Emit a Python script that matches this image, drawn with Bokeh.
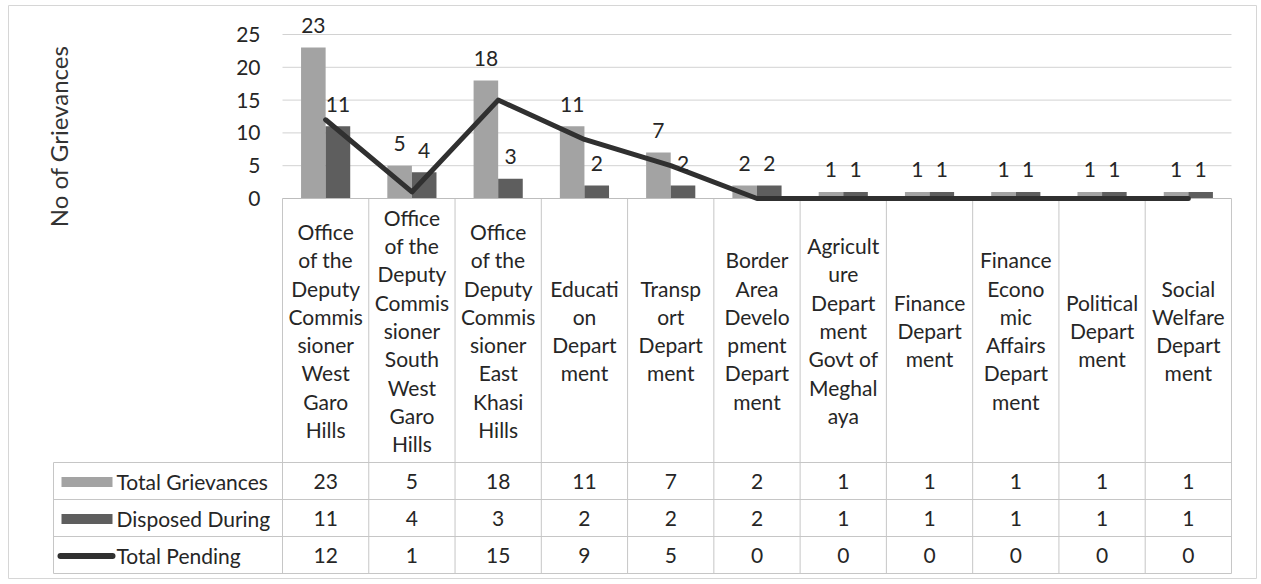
import numpy as np
from bokeh.plotting import figure
from bokeh.models import Range1d, FixedTicker, LinearAxis
from bokeh.core.properties import value
from bokeh.embed import file_html
from bokeh.resources import INLINE

# ---------------- data ----------------
categories = [
    "Office\nof the\nDeputy\nCommis\nsioner\nWest\nGaro\nHills",
    "Office\nof the\nDeputy\nCommis\nsioner\nSouth\nWest\nGaro\nHills",
    "Office\nof the\nDeputy\nCommis\nsioner\nEast\nKhasi\nHills",
    "Educati\non\nDepart\nment",
    "Transp\nort\nDepart\nment",
    "Border\nArea\nDevelo\npment\nDepart\nment",
    "Agricult\nure\nDepart\nment\nGovt of\nMeghal\naya",
    "Finance\nDepart\nment",
    "Finance\nEcono\nmic\nAffairs\nDepart\nment",
    "Political\nDepart\nment",
    "Social\nWelfare\nDepart\nment",
]
total_grievances = [23, 5, 18, 11, 7, 2, 1, 1, 1, 1, 1]
disposed_during = [11, 4, 3, 2, 2, 2, 1, 1, 1, 1, 1]
total_pending = [12, 1, 15, 9, 5, 0, 0, 0, 0, 0, 0]
series_names = ["Total Grievances", "Disposed During", "Total Pending"]
y_ticks = [0, 5, 10, 15, 20, 25]
y_title = "No of Grievances"

# ---------------- layout (page pixels; figure sits at page origin) ----------------
W, H = 1259, 582
PX0, CW = 282.0, 86.27    # left edge of first category column, column width
PY0, UNIT = 198.0, 6.56   # baseline (value 0) and pixels per unit

def ux(px):
    return (px - PX0) / CW

def vy(py):
    return (PY0 - py) / UNIT

FONT = value("Lato")
TXT = "#262626"
C_TOTAL = "#a3a3a3"
C_DISP = "#5e5e5e"
C_PEND = "#303030"
C_GRID = "#d2d2d2"
C_TABLE = "#c6c6c6"

N = len(categories)
centers = np.arange(N) + 0.5
BW = 0.285

p = figure(width=W, height=H,
           x_range=Range1d(ux(0), ux(W)),
           y_range=Range1d(vy(H), vy(0)),
           output_backend="svg", toolbar_location=None,
           x_axis_location=None, y_axis_location=None,
           min_border=0)
p.grid.visible = False
p.outline_line_color = None
p.background_fill_color = "white"
p.border_fill_color = "white"

yaxis = LinearAxis(fixed_location=0, ticker=FixedTicker(ticks=y_ticks),
                   axis_line_color=None, major_tick_line_color=None,
                   minor_tick_line_color=None, major_tick_out=0,
                   minor_tick_out=0, major_label_standoff=22,
                   major_label_text_font="Lato",
                   major_label_text_font_size="21px",
                   major_label_text_color=TXT)
p.add_layout(yaxis, "left")

# outer chart border
bx0, bx1, by0, by1 = ux(8), ux(1256), vy(5), vy(578)
p.segment(x0=[bx0, bx0, bx0, bx1], x1=[bx1, bx1, bx0, bx1],
          y0=[by0, by1, by0, by0], y1=[by0, by1, by1, by1],
          line_color="#d6d6d6", line_width=1)

# gridlines (value axis)
p.segment(x0=[0] * (len(y_ticks) - 1), x1=[N] * (len(y_ticks) - 1),
          y0=y_ticks[1:], y1=y_ticks[1:], line_color=C_GRID, line_width=1)

# bars
p.vbar(x=centers - BW / 2, top=total_grievances, width=BW,
       fill_color=C_TOTAL, line_color=None)
p.vbar(x=centers + BW / 2, top=disposed_during, width=BW,
       fill_color=C_DISP, line_color=None)

# data table geometry
band_bottom = 462.0
row_h = 37.0
row_tops = [band_bottom + k * row_h for k in range(4)]
legend_left = 53.0

# vertical column borders
p.segment(x0=list(range(N + 1)), x1=list(range(N + 1)),
          y0=[0] * (N + 1), y1=[vy(row_tops[-1])] * (N + 1),
          line_color=C_TABLE, line_width=1)
p.segment(x0=[ux(legend_left)], x1=[ux(legend_left)],
          y0=[vy(row_tops[0])], y1=[vy(row_tops[-1])],
          line_color=C_TABLE, line_width=1)
# horizontal row borders
p.segment(x0=[ux(legend_left)] * 4, x1=[N] * 4,
          y0=[vy(t) for t in row_tops], y1=[vy(t) for t in row_tops],
          line_color=C_TABLE, line_width=1)
# category axis line at 0
p.segment(x0=[0], x1=[N], y0=[0], y1=[0], line_color="#bdbdbd", line_width=1)

# pending line
p.line(x=centers, y=total_pending, line_color=C_PEND, line_width=5,
       line_join="round", line_cap="round")

# data labels
p.text(x=centers - BW / 2, y=total_grievances,
       text=[str(v) for v in total_grievances], text_align="center",
       text_baseline="alphabetic", y_offset=-22, text_font=FONT,
       text_font_size="21px", text_color=TXT)
p.text(x=centers + BW / 2, y=disposed_during,
       text=[str(v) for v in disposed_during], text_align="center",
       text_baseline="alphabetic", y_offset=-22, text_font=FONT,
       text_font_size="21px", text_color=TXT)

# category labels (wrapped)
LINE_H = 28.3
band_mid = (PY0 + band_bottom) / 2
cx, cy, ct = [], [], []
for i, lab in enumerate(categories):
    lines = lab.split("\n")
    n = len(lines)
    for k, t in enumerate(lines):
        cx.append(i + 0.5)
        cy.append(vy(band_mid + (k - (n - 1) / 2) * LINE_H))
        ct.append(t)
p.text(x=cx, y=cy, text=ct, text_align="center", text_baseline="middle",
       text_font=FONT, text_font_size="21px", text_color=TXT)

# table values
row_vals = [total_grievances, disposed_during, total_pending]
tx, ty, tt = [], [], []
for r, vals in enumerate(row_vals):
    mid = row_tops[r] + row_h / 2
    for i, v in enumerate(vals):
        tx.append(i + 0.5)
        ty.append(vy(mid))
        tt.append(str(v))
p.text(x=tx, y=ty, text=tt, text_align="center", text_baseline="middle",
       text_font=FONT, text_font_size="21px", text_color=TXT)

# legend keys + names in the table
mids = [row_tops[r] + row_h / 2 for r in range(3)]
p.quad(left=[ux(61)] * 2, right=[ux(112)] * 2,
       top=[vy(mids[0] - 4), vy(mids[1] - 4)],
       bottom=[vy(mids[0] + 6), vy(mids[1] + 6)],
       fill_color=[C_TOTAL, C_DISP], line_color=None)
p.line(x=[ux(60), ux(112)], y=[vy(mids[2] + 1), vy(mids[2] + 1)],
       line_color=C_PEND, line_width=6, line_cap="round")
p.text(x=[ux(116)] * 3, y=[vy(m) for m in mids], text=series_names,
       text_align="left", text_baseline="middle", text_font=FONT,
       text_font_size="21px", text_color=TXT)

# value axis title
p.text(x=[ux(58)], y=[vy(136)], text=[y_title], angle=np.pi / 2,
       text_align="center", text_baseline="middle", text_font=FONT,
       text_font_size="24px", text_color="#333333")

open("out.html", "w").write(file_html(p, INLINE))
